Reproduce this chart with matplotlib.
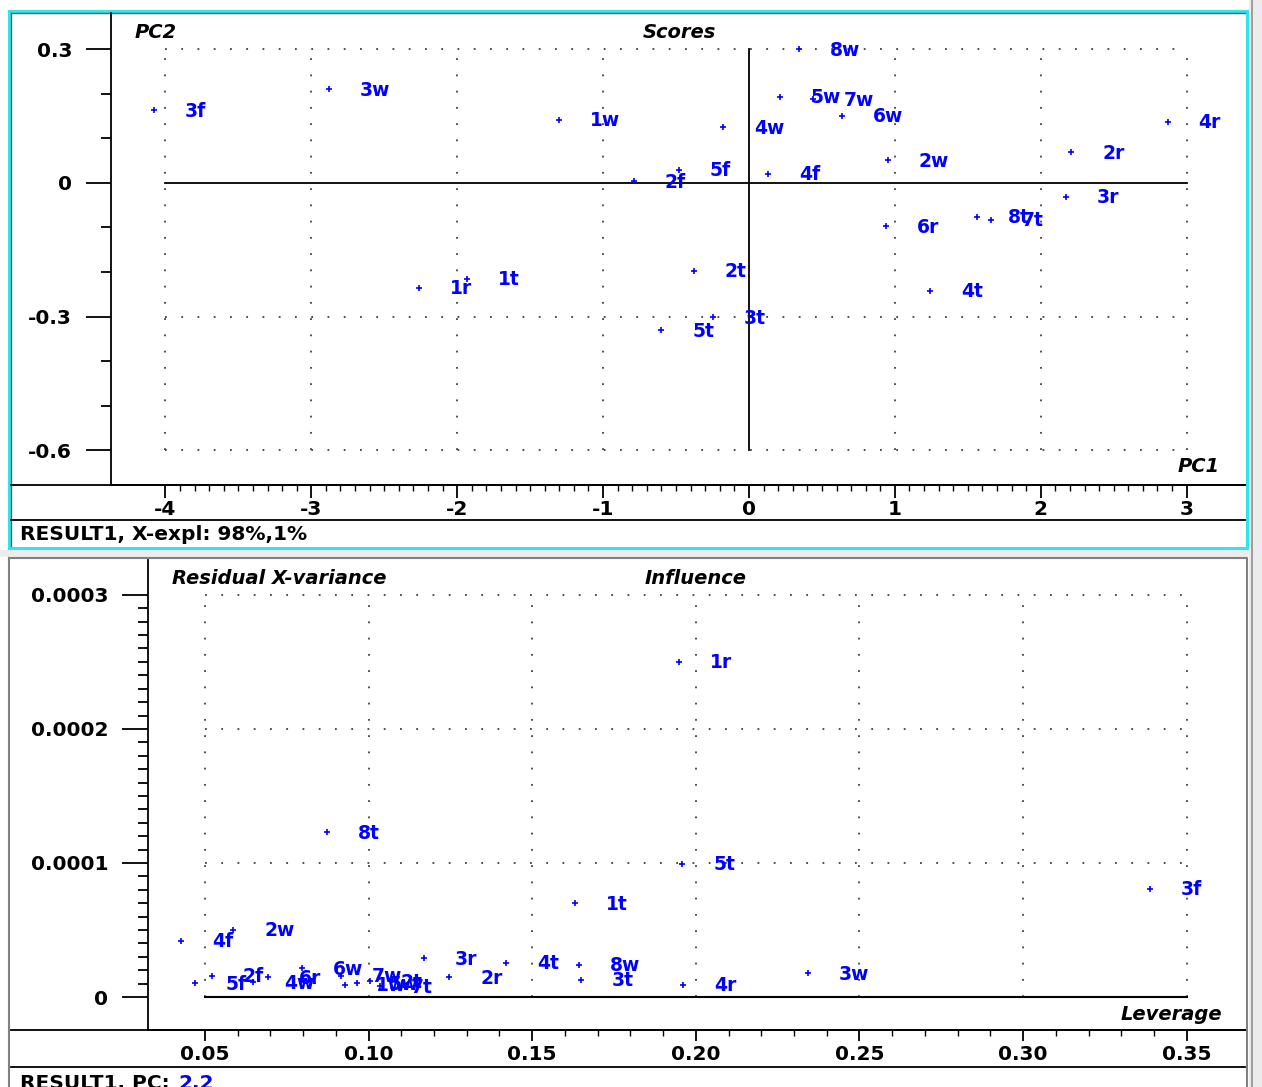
import numpy as np
import matplotlib.pyplot as plt
from matplotlib.patches import Rectangle
from matplotlib.ticker import FixedLocator, FuncFormatter

plt.rcParams['font.family'] = ['DejaVu Sans']
plt.rcParams['font.weight'] = 'bold'
plt.rcParams['axes.unicode_minus'] = False

# samples and their values
samples = ['1w', '2w', '3w', '4w', '5w', '6w', '7w', '8w',
           '2f', '3f', '4f', '5f',
           '1r', '2r', '3r', '4r', '6r',
           '1t', '2t', '3t', '4t', '5t', '7t', '8t']
pc1 = [-1.30, 0.95, -2.88, -0.18, 0.21, 0.64, 0.44, 0.34,
       -0.79, -4.08, 0.13, -0.48,
       -2.26, 2.21, 2.17, 2.87, 0.94,
       -1.93, -0.38, -0.25, 1.24, -0.60, 1.66, 1.56]
pc2 = [0.141, 0.051, 0.210, 0.125, 0.193, 0.150, 0.188, 0.300,
       0.004, 0.163, 0.020, 0.029,
       -0.235, 0.069, -0.031, 0.137, -0.098,
       -0.215, -0.197, -0.302, -0.242, -0.331, -0.083, -0.076]
leverage = [0.0928, 0.0586, 0.2343, 0.0647, 0.0965, 0.0796, 0.0916, 0.1643,
            0.0521, 0.3388, 0.0427, 0.0469,
            0.1949, 0.1246, 0.1169, 0.1961, 0.0693,
            0.1631, 0.1004, 0.1649, 0.1420, 0.1958, 0.1035, 0.0873]
resvar = [0.90e-5, 5.00e-5, 1.79e-5, 1.12e-5, 1.04e-5, 2.16e-5, 1.57e-5, 2.39e-5,
          1.57e-5, 8.06e-5, 4.18e-5, 1.04e-5,
          25.0e-5, 1.49e-5, 2.91e-5, 0.90e-5, 1.49e-5,
          7.01e-5, 1.19e-5, 1.27e-5, 2.54e-5, 9.93e-5, 0.82e-5, 12.3e-5]

pc1_ticks = [-4, -3, -2, -1, 0, 1, 2, 3]
pc2_ticks = [-0.6, -0.3, 0, 0.3]
lev_ticks = [0.05, 0.10, 0.15, 0.20, 0.25, 0.30, 0.35]
res_ticks = [0, 0.0001, 0.0002, 0.0003]

W, H = 1262, 1087
BLUE = '#0000ff'
DOT = (0, (1, 8))

fig = plt.figure(figsize=(W / 100, H / 100), dpi=100)
fig.patch.set_facecolor('white')

# background layer in pixel coordinates for the window frames
bg = fig.add_axes([0, 0, 1, 1])
bg.set_xlim(0, W)
bg.set_ylim(H, 0)
bg.axis('off')

bg.add_patch(Rectangle((1249, 0), 13, H, color='#ececec', lw=0))
bg.plot([1252, 1252], [0, H], color='#909090', lw=1.2)
bg.add_patch(Rectangle((0, 550), 1249, 7, color='#ececec', lw=0))
bg.add_patch(Rectangle((9, 11), 1238, 537, fill=False, ec='#30e4ea', lw=2.2))
bg.plot([11, 1245], [13, 13], color='#606060', lw=1.0)
bg.plot([11, 11], [13, 546], color='#606060', lw=1.0)
bg.plot([9, 1247, 1247], [558, 558, H], color='#808080', lw=1.5)
bg.plot([9, 9], [558, H], color='#808080', lw=1.5)

for y in (485, 520, 1030, 1067):
    bg.plot([11, 1245], [y, y], color='black', lw=1.3)

bg.text(20, 535, 'RESULT1, X-expl: 98%,1%', fontsize=14.5, va='center')
status = bg.text(20, 1083, 'RESULT1, PC: ', fontsize=14.5, va='center')
bg.annotate('2,2', xy=(1, 0.5), xycoords=status, xytext=(2, 0),
            textcoords='offset pixels', fontsize=14.5, va='center', color=BLUE)

bg.text(135, 32, 'PC2', fontsize=14, style='italic', va='center')
bg.text(679, 32, 'Scores', fontsize=14, style='italic', va='center', ha='center')
bg.text(1220, 467, 'PC1', fontsize=14, style='italic', va='center', ha='right')
bg.text(172, 578, 'Residual X-variance', fontsize=14, style='italic', va='center')
bg.text(696, 578, 'Influence', fontsize=14, style='italic', va='center', ha='center')
bg.text(1222, 1014, 'Leverage', fontsize=14, style='italic', va='center', ha='right')


def px_axes(left, top, right, bottom):
    a = fig.add_axes([left / W, 1 - bottom / H, (right - left) / W, (bottom - top) / H])
    a.patch.set_alpha(0)
    for s in ('top', 'right'):
        a.spines[s].set_visible(False)
    for s in ('left', 'bottom'):
        a.spines[s].set_linewidth(1.3)
    return a


def draw_points(a, xs, ys):
    a.plot(xs, ys, '+', color=BLUE, ms=5, mew=1.2, zorder=3, clip_on=False)
    for name, x, y in zip(samples, xs, ys):
        a.annotate(name, (x, y), xytext=(31, -1), textcoords='offset pixels',
                   color=BLUE, fontsize=13.5, va='center', ha='left',
                   zorder=4, annotation_clip=False)


# ---- Scores plot ----
ax1 = px_axes(111, 13, 1245, 485)
ax1.set_xlim(-4.373, 3.40)
ax1.set_ylim(-0.678, 0.381)
ax1.xaxis.set_major_locator(FixedLocator(pc1_ticks))
ax1.xaxis.set_minor_locator(FixedLocator(np.arange(-40, 31) / 10))
ax1.yaxis.set_major_locator(FixedLocator(pc2_ticks))
ax1.yaxis.set_minor_locator(FixedLocator(np.arange(-6, 4) / 10))
ax1.xaxis.set_major_formatter(FuncFormatter(lambda v, p: f'{v:g}'))
ax1.yaxis.set_major_formatter(FuncFormatter(lambda v, p: f'{v:g}'))
ax1.tick_params(axis='x', which='major', length=9, width=1.3, pad=2, labelsize=14.5)
ax1.tick_params(axis='x', which='minor', length=4.5, width=1.0)
ax1.tick_params(axis='y', which='major', length=18, width=1.3, pad=10, labelsize=14.5)
ax1.tick_params(axis='y', which='minor', length=7.2, width=1.3)

for x in pc1_ticks:
    if x != 0:
        ax1.plot([x, x], [pc2_ticks[0], pc2_ticks[-1]], color='#404040', lw=1.3, ls=DOT, zorder=1)
for y in pc2_ticks:
    if y != 0:
        ax1.plot([pc1_ticks[0], pc1_ticks[-1]], [y, y], color='#404040', lw=1.3, ls=DOT, zorder=1)
ax1.plot([pc1_ticks[0], pc1_ticks[-1]], [0, 0], color='black', lw=1.3, zorder=2)
ax1.plot([0, 0], [pc2_ticks[0], pc2_ticks[-1]], color='black', lw=1.3, zorder=2)
draw_points(ax1, pc1, pc2)

# ---- Influence plot ----
ax2 = px_axes(148, 560, 1245, 1030)
ax2.set_xlim(0.0326, 0.3678)
ax2.set_ylim(-2.46e-5, 3.26e-4)
ax2.xaxis.set_major_locator(FixedLocator(lev_ticks))
ax2.xaxis.set_minor_locator(FixedLocator(np.arange(5, 36) / 100))
ax2.yaxis.set_major_locator(FixedLocator(res_ticks))
ax2.yaxis.set_minor_locator(FixedLocator(np.arange(0, 31) * 1e-5))
ax2.xaxis.set_major_formatter(FuncFormatter(lambda v, p: f'{v:.2f}'))
ax2.yaxis.set_major_formatter(FuncFormatter(lambda v, p: '0' if v == 0 else f'{v:.4f}'))
ax2.tick_params(axis='x', which='major', length=8, width=1.3, pad=3, labelsize=14.5)
ax2.tick_params(axis='x', which='minor', length=4, width=1.0)
ax2.tick_params(axis='y', which='major', length=18.5, width=1.3, pad=10, labelsize=14.5)
ax2.tick_params(axis='y', which='minor', length=7.2, width=1.3)

for x in lev_ticks:
    ax2.plot([x, x], [res_ticks[0], res_ticks[-1]], color='#404040', lw=1.3, ls=DOT, zorder=1)
for y in res_ticks[1:]:
    ax2.plot([lev_ticks[0], lev_ticks[-1]], [y, y], color='#404040', lw=1.3, ls=DOT, zorder=1)
ax2.plot([lev_ticks[0], lev_ticks[-1]], [0, 0], color='black', lw=1.5, zorder=2)
draw_points(ax2, leverage, resvar)

fig.savefig('out.png', dpi=100)
